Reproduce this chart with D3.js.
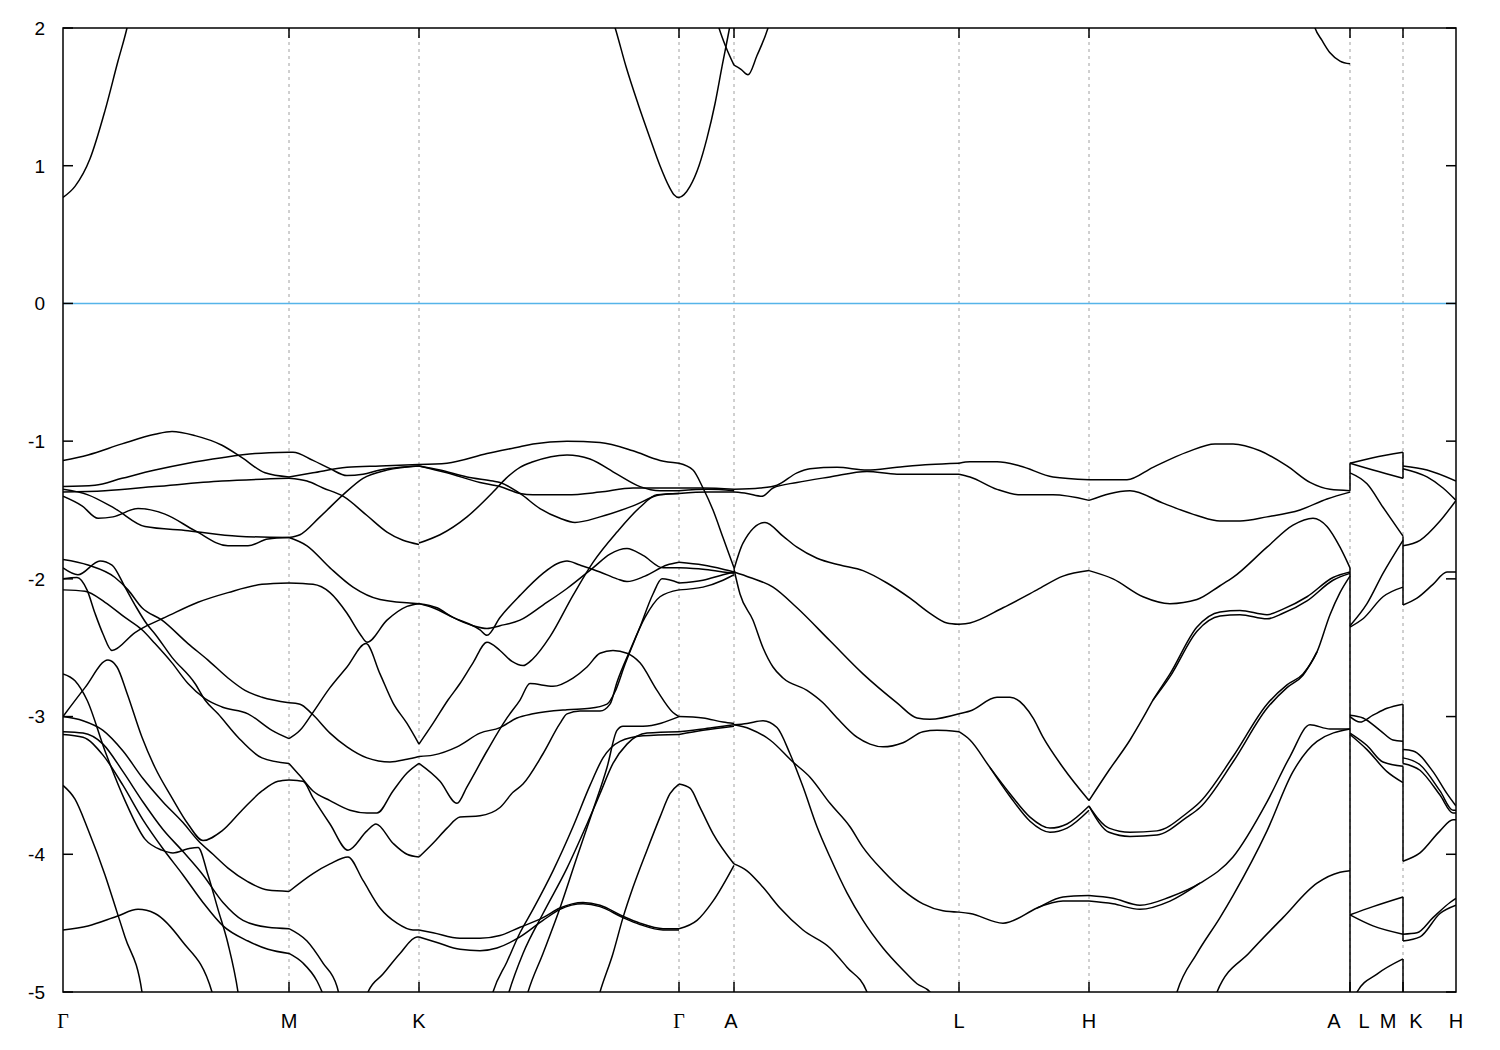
<!DOCTYPE html>
<html><head><meta charset="utf-8">
<script src="https://cdn.jsdelivr.net/npm/d3@7"></script>
<style>body{margin:0;background:#fff}</style>
</head><body>
<svg id="c" width="1500" height="1050"></svg>
<script>
// ---- tick labels / positions (k = path coordinate) ----
const xLabels   = ["Γ","M","K","Γ","A","L","H","A","L","M","K","H"];
const xLabelPos = [0,226,356,616,668,896,1026,1271,1301,1325,1353,1393];
const gridPos   = [226,356,616,671,896,1026,1287,1340];
const yTicks    = [2,1,0,-1,-2,-3,-4,-5];

// ---- bands, [k, E(eV)] ----
const conduction = [
 [[0,0.77],[12,0.85],[27,1.05],[42,1.40],[55,1.76],[64,2.0],[70,2.2]],
 [[548,2.1],[553,1.98],[563,1.72],[575,1.45],[587,1.2],[597,1.0],[606,0.85],[611,0.79],[616,0.77],[621,0.79],[627,0.85],[636,1.0],[644,1.2],[652,1.45],[659,1.72],[666,1.98],[669,2.1]],
 [[652,2.1],[656,2.0],[663,1.86],[671,1.73]],
 [[671,1.73],[678,1.70],[685,1.66],[694,1.80],[705,2.0],[709,2.1]],
 [[1248,2.1],[1252,2.0],[1259,1.91],[1267,1.82],[1277,1.76],[1287,1.74]]
];
const gammaM = [
 [[0,-1.14],[25,-1.10],[59,-1.02],[92,-0.95],[109,-0.93],[132,-0.96],[159,-1.03],[179,-1.12],[202,-1.23],[226,-1.26]],
 [[0,-1.33],[32,-1.32],[59,-1.27],[92,-1.21],[125,-1.16],[159,-1.12],[192,-1.09],[226,-1.08]],
 [[0,-1.37],[42,-1.36],[92,-1.33],[159,-1.29],[226,-1.27]],
 [[0,-1.35],[25,-1.39],[52,-1.49],[82,-1.62],[125,-1.65],[175,-1.69],[226,-1.70]],
 [[0,-1.40],[19,-1.47],[35,-1.56],[50,-1.55],[75,-1.49],[102,-1.53],[132,-1.65],[165,-1.76],[185,-1.76],[205,-1.71],[226,-1.70]],
 [[0,-1.86],[25,-1.90],[52,-1.99],[65,-2.08],[79,-2.21],[99,-2.30],[125,-2.47],[145,-2.59],[165,-2.72],[182,-2.81],[199,-2.86],[226,-2.90]],
 [[0,-1.92],[15,-1.97],[37,-1.87],[49,-1.90],[62,-2.06],[72,-2.19],[84,-2.33],[92,-2.40],[109,-2.57],[132,-2.76],[142,-2.88],[155,-2.98],[175,-3.15],[199,-3.30],[226,-3.34]],
 [[0,-2.0],[14,-1.99],[24,-2.08],[32,-2.25],[40,-2.40],[49,-2.52],[72,-2.39],[84,-2.34],[102,-2.28],[135,-2.17],[165,-2.10],[199,-2.04],[226,-2.03]],
 [[0,-2.08],[22,-2.09],[42,-2.17],[62,-2.28],[79,-2.37],[92,-2.47],[109,-2.61],[125,-2.76],[142,-2.87],[159,-2.93],[185,-2.98],[209,-3.10],[226,-3.16]],
 [[0,-3.0],[22,-2.79],[45,-2.59],[54,-2.64],[64,-2.83],[79,-3.15],[92,-3.37],[109,-3.59],[125,-3.78],[140,-3.90],[159,-3.83],[179,-3.68],[199,-3.54],[215,-3.47],[226,-3.46]],
 [[0,-2.69],[12,-2.74],[24,-2.88],[42,-3.25],[62,-3.61],[82,-3.89],[99,-3.97],[110,-3.99],[125,-3.96],[135,-3.95],[145,-4.15],[155,-4.40],[165,-4.65],[175,-5.0],[177,-5.1]],
 [[0,-3.50],[12,-3.60],[25,-3.82],[42,-4.15],[54,-4.42],[62,-4.6],[79,-5.0],[81,-5.1]],
 [[0,-4.55],[25,-4.52],[54,-4.45],[75,-4.40],[92,-4.43],[119,-4.63],[149,-5.0],[152,-5.1]],
 [[0,-3.0],[20,-3.03],[40,-3.10],[60,-3.25],[80,-3.45],[100,-3.62],[120,-3.77],[135,-3.90],[150,-4.0],[165,-4.10],[185,-4.20],[205,-4.26],[226,-4.27]],
 [[0,-3.11],[20,-3.12],[40,-3.20],[60,-3.40],[80,-3.62],[100,-3.82],[120,-3.98],[140,-4.15],[160,-4.35],[180,-4.48],[205,-4.53],[226,-4.54]],
 [[0,-3.13],[20,-3.15],[40,-3.28],[60,-3.50],[80,-3.75],[100,-3.96],[120,-4.15],[140,-4.35],[160,-4.52],[185,-4.63],[205,-4.69],[226,-4.72]]
];
const mK = [
 [[226,-1.08],[230,-1.08],[250,-1.14],[267,-1.20],[284,-1.25],[300,-1.24],[317,-1.21],[337,-1.19],[356,-1.18]],
 [[226,-1.26],[250,-1.23],[284,-1.19],[317,-1.18],[356,-1.17]],
 [[226,-1.27],[244,-1.29],[260,-1.34],[280,-1.40],[304,-1.54],[324,-1.66],[340,-1.72],[356,-1.75]],
 [[226,-1.70],[237,-1.68],[257,-1.55],[280,-1.39],[300,-1.27],[324,-1.21],[356,-1.18]],
 [[226,-1.70],[244,-1.76],[267,-1.92],[290,-2.06],[317,-2.15],[356,-2.18]],
 [[226,-2.03],[250,-2.04],[267,-2.10],[284,-2.25],[297,-2.40],[304,-2.46],[324,-2.30],[344,-2.20],[356,-2.18]],
 [[226,-3.16],[237,-3.10],[249,-2.98],[267,-2.79],[284,-2.64],[303,-2.47],[317,-2.69],[330,-2.90],[344,-3.05],[356,-3.20]],
 [[226,-2.90],[237,-2.91],[249,-2.98],[267,-3.12],[284,-3.22],[304,-3.30],[327,-3.33],[344,-3.31],[356,-3.29]],
 [[226,-3.34],[237,-3.43],[250,-3.54],[267,-3.61],[287,-3.68],[304,-3.70],[314,-3.70],[330,-3.54],[344,-3.41],[356,-3.34]],
 [[226,-3.46],[240,-3.47],[250,-3.59],[267,-3.78],[285,-3.97],[304,-3.83],[313,-3.78],[330,-3.92],[344,-4.0],[356,-4.02]],
 [[226,-4.27],[250,-4.14],[267,-4.07],[285,-4.02],[300,-4.19],[317,-4.39],[334,-4.50],[350,-4.55],[356,-4.55]],
 [[226,-4.54],[244,-4.63],[260,-4.79],[274,-4.96],[277,-5.05]],
 [[226,-4.72],[240,-4.79],[254,-4.92],[262,-5.05]],
 [[303,-5.05],[305,-5.0],[320,-4.87],[337,-4.72],[354,-4.60],[356,-4.60]]
];
const kGamma = [
 [[356,-1.17],[384,-1.16],[424,-1.09],[457,-1.04],[470,-1.02],[504,-1.0],[537,-1.01],[570,-1.07],[597,-1.14],[616,-1.16]],
 [[356,-1.74],[377,-1.68],[404,-1.55],[430,-1.37],[443,-1.27],[457,-1.19],[470,-1.15],[504,-1.10],[527,-1.13],[554,-1.24],[577,-1.33],[597,-1.36],[616,-1.36]],
 [[356,-1.18],[384,-1.23],[417,-1.30],[437,-1.33],[457,-1.38],[470,-1.39],[504,-1.39],[537,-1.37],[570,-1.34],[616,-1.34]],
 [[356,-1.18],[377,-1.21],[404,-1.26],[430,-1.29],[437,-1.30],[457,-1.38],[477,-1.49],[497,-1.56],[512,-1.59],[537,-1.55],[570,-1.47],[597,-1.39],[616,-1.38]],
 [[356,-2.18],[374,-2.21],[390,-2.28],[410,-2.34],[424,-2.36],[437,-2.34],[457,-2.30],[480,-2.19],[504,-2.07],[530,-1.92],[547,-1.82],[564,-1.78],[580,-1.83],[600,-1.92],[616,-1.92]],
 [[356,-2.18],[370,-2.21],[390,-2.28],[417,-2.37],[424,-2.41],[437,-2.28],[457,-2.12],[480,-1.96],[494,-1.89],[504,-1.87],[517,-1.90],[537,-1.95],[554,-2.0],[564,-2.02],[582,-1.98],[604,-1.90],[616,-1.88]],
 [[356,-3.20],[370,-3.05],[385,-2.88],[397,-2.76],[410,-2.61],[424,-2.46],[437,-2.52],[449,-2.60],[460,-2.63],[470,-2.58],[487,-2.42],[510,-2.12],[530,-1.88],[554,-1.66],[577,-1.48],[594,-1.39],[616,-1.38]],
 [[356,-3.29],[370,-3.28],[394,-3.22],[417,-3.12],[437,-3.08],[454,-3.01],[470,-2.98],[504,-2.95],[527,-2.94],[544,-2.91],[552,-2.82],[562,-2.62],[577,-2.35],[590,-2.11],[599,-2.0],[616,-2.03]],
 [[356,-3.34],[377,-3.47],[394,-3.63],[404,-3.51],[424,-3.25],[444,-3.01],[457,-2.88],[467,-2.76],[490,-2.78],[510,-2.72],[524,-2.64],[537,-2.54],[550,-2.52],[564,-2.54],[577,-2.61],[594,-2.81],[610,-2.97],[616,-3.0]],
 [[356,-4.02],[370,-3.92],[384,-3.81],[397,-3.73],[417,-3.72],[437,-3.66],[450,-3.55],[460,-3.49],[480,-3.27],[497,-3.05],[504,-2.98],[517,-2.96],[537,-2.96],[547,-2.91],[554,-2.75],[567,-2.52],[582,-2.28],[597,-2.13],[616,-2.08]],
 [[444,-5.05],[446,-5.0],[460,-4.72],[480,-4.43],[504,-4.10],[524,-3.78],[537,-3.56],[550,-3.34],[564,-3.20],[584,-3.12],[616,-3.11]],
 [[463,-5.05],[465,-5.0],[480,-4.72],[497,-4.39],[514,-4.02],[530,-3.68],[544,-3.37],[554,-3.10],[560,-3.07],[580,-3.07],[616,-3.0]],
 [[428,-5.05],[430,-5.0],[444,-4.78],[457,-4.57],[470,-4.40],[490,-4.12],[510,-3.80],[527,-3.50],[540,-3.30],[557,-3.18],[580,-3.14],[616,-3.13]],
 [[535,-5.05],[537,-5.0],[550,-4.72],[560,-4.46],[570,-4.24],[584,-3.97],[597,-3.73],[607,-3.56],[616,-3.49]],
 [[356,-4.55],[370,-4.57],[397,-4.61],[417,-4.61],[437,-4.59],[457,-4.53],[480,-4.46],[497,-4.39],[520,-4.35],[537,-4.37],[560,-4.45],[577,-4.50],[600,-4.54],[616,-4.54]],
 [[356,-4.60],[374,-4.64],[397,-4.69],[417,-4.70],[434,-4.68],[457,-4.60],[480,-4.48],[497,-4.40],[520,-4.36],[537,-4.38],[560,-4.46],[577,-4.51],[600,-4.55],[616,-4.55]]
];
const gammaA = [
 [[616,-1.16],[630,-1.21],[640,-1.34],[650,-1.50],[660,-1.70],[671,-1.92]],
 [[616,-1.34],[640,-1.34],[671,-1.35]],
 [[616,-1.36],[645,-1.35],[671,-1.36]],
 [[616,-1.38],[645,-1.37],[671,-1.37]],
 [[616,-1.88],[640,-1.90],[660,-1.93],[671,-1.95]],
 [[616,-1.92],[640,-1.93],[660,-1.95],[671,-1.96]],
 [[616,-2.03],[640,-2.01],[660,-1.97],[671,-1.95]],
 [[616,-2.08],[640,-2.06],[660,-2.01],[671,-1.97]],
 [[616,-3.0],[640,-3.01],[660,-3.04],[671,-3.05]],
 [[616,-3.11],[640,-3.09],[660,-3.07],[671,-3.06]],
 [[616,-3.13],[640,-3.10],[671,-3.07]],
 [[616,-3.49],[627,-3.52],[637,-3.66],[650,-3.85],[671,-4.07]],
 [[616,-4.54],[634,-4.48],[650,-4.34],[671,-4.08]]
];
const aL = [
 [[671,-1.93],[680,-1.74],[702,-1.59],[720,-1.69],[734,-1.77],[754,-1.85],[777,-1.90],[800,-1.94],[824,-2.03],[847,-2.14],[867,-2.25],[884,-2.32],[896,-2.33]],
 [[671,-1.95],[687,-1.99],[710,-2.06],[734,-2.21],[767,-2.45],[800,-2.69],[834,-2.90],[854,-3.01],[867,-3.02],[896,-2.98]],
 [[671,-1.93],[677,-2.11],[690,-2.30],[700,-2.50],[710,-2.64],[720,-2.72],[744,-2.81],[760,-2.90],[774,-3.01],[794,-3.15],[807,-3.20],[820,-3.22],[840,-3.19],[860,-3.11],[874,-3.10],[896,-3.11]],
 [[671,-1.35],[697,-1.34],[714,-1.32],[734,-1.23],[747,-1.20],[774,-1.19],[804,-1.21],[834,-1.19],[867,-1.17],[896,-1.16]],
 [[671,-1.37],[684,-1.38],[699,-1.40],[710,-1.34],[734,-1.30],[767,-1.26],[804,-1.22],[834,-1.24],[867,-1.24],[896,-1.24]],
 [[671,-3.06],[684,-3.05],[700,-3.03],[714,-3.08],[727,-3.27],[740,-3.51],[754,-3.80],[767,-4.02],[784,-4.28],[800,-4.48],[820,-4.68],[840,-4.84],[854,-4.94],[867,-5.0],[870,-5.05]],
 [[671,-3.06],[687,-3.09],[707,-3.17],[730,-3.33],[747,-3.44],[767,-3.63],[787,-3.80],[800,-3.95],[820,-4.12],[840,-4.26],[860,-4.36],[880,-4.41],[896,-4.42]],
 [[671,-4.07],[684,-4.12],[700,-4.24],[717,-4.39],[740,-4.55],[767,-4.68],[784,-4.82],[804,-5.0],[806,-5.05]]
];
const lH = [
 [[896,-1.16],[907,-1.15],[934,-1.15],[957,-1.18],[990,-1.26],[1026,-1.28]],
 [[896,-1.24],[907,-1.26],[934,-1.35],[957,-1.39],[990,-1.39],[1026,-1.43]],
 [[896,-2.33],[907,-2.32],[940,-2.21],[974,-2.08],[1000,-1.98],[1026,-1.94]],
 [[896,-2.98],[907,-2.96],[934,-2.86],[947,-2.86],[970,-3.01],[980,-3.15],[1000,-3.37],[1026,-3.61]],
 [[896,-3.11],[907,-3.17],[927,-3.37],[947,-3.56],[967,-3.73],[987,-3.81],[1004,-3.78],[1026,-3.65]],
 [[927,-3.37],[947,-3.58],[967,-3.76],[987,-3.84],[1004,-3.81],[1026,-3.68]],
 [[896,-4.42],[907,-4.43],[940,-4.50],[974,-4.39],[1000,-4.31],[1026,-4.30]],
 [[974,-4.39],[1000,-4.34],[1026,-4.34]]
];
const hA = [
 [[1026,-1.28],[1064,-1.28],[1090,-1.19],[1124,-1.08],[1152,-1.02],[1170,-1.02],[1197,-1.07],[1224,-1.18],[1247,-1.30],[1267,-1.35],[1287,-1.36]],
 [[1026,-1.43],[1067,-1.36],[1100,-1.45],[1134,-1.54],[1157,-1.58],[1177,-1.58],[1204,-1.55],[1237,-1.50],[1264,-1.42],[1287,-1.37]],
 [[1026,-1.94],[1050,-2.0],[1080,-2.13],[1107,-2.18],[1134,-2.15],[1157,-2.05],[1170,-1.99],[1204,-1.77],[1230,-1.61],[1250,-1.56],[1264,-1.62],[1277,-1.77],[1287,-1.92]],
 [[1026,-3.61],[1046,-3.39],[1067,-3.17],[1080,-3.01],[1090,-2.88],[1107,-2.69],[1134,-2.35],[1157,-2.24],[1177,-2.23],[1204,-2.26],[1220,-2.22],[1244,-2.13],[1270,-1.99],[1287,-1.95]],
 [[1090,-2.88],[1107,-2.71],[1134,-2.38],[1157,-2.27],[1177,-2.26],[1204,-2.29],[1220,-2.25],[1244,-2.16],[1270,-2.01],[1287,-1.96]],
 [[1026,-3.65],[1046,-3.81],[1067,-3.84],[1094,-3.83],[1124,-3.70],[1137,-3.62],[1170,-3.29],[1204,-2.91],[1224,-2.77],[1240,-2.69],[1254,-2.53],[1267,-2.26],[1277,-2.10],[1287,-1.98]],
 [[1026,-3.65],[1046,-3.84],[1067,-3.87],[1094,-3.86],[1124,-3.73],[1137,-3.66],[1170,-3.33],[1204,-2.94],[1224,-2.79],[1240,-2.70],[1254,-2.53]],
 [[1026,-4.30],[1050,-4.32],[1077,-4.37],[1107,-4.31],[1137,-4.21],[1170,-4.02],[1204,-3.62],[1227,-3.29],[1247,-3.06],[1267,-3.09],[1287,-3.09]],
 [[1026,-4.34],[1050,-4.36],[1077,-4.40],[1107,-4.34],[1137,-4.21]],
 [[1112,-5.05],[1114,-5.0],[1134,-4.72],[1157,-4.46],[1170,-4.30],[1204,-3.83],[1230,-3.40],[1254,-3.18],[1287,-3.09]],
 [[1152,-5.05],[1154,-5.0],[1187,-4.71],[1220,-4.46],[1254,-4.21],[1277,-4.13],[1287,-4.12]]
];
const lM = [
 [[1287,-1.16],[1310,-1.12],[1340,-1.08]],
 [[1287,-1.16],[1310,-1.21],[1340,-1.27]],
 [[1287,-1.23],[1304,-1.31],[1320,-1.48],[1340,-1.69]],
 [[1287,-2.34],[1304,-2.18],[1320,-1.96],[1340,-1.72]],
 [[1287,-2.35],[1300,-2.29],[1320,-2.13],[1340,-2.06]],
 [[1287,-3.0],[1297,-3.04],[1310,-2.99],[1324,-2.94],[1340,-2.91]],
 [[1287,-2.99],[1300,-3.01],[1317,-3.10],[1330,-3.17],[1340,-3.18]],
 [[1287,-3.12],[1304,-3.21],[1320,-3.33],[1340,-3.36]],
 [[1287,-3.13],[1304,-3.24],[1324,-3.40],[1340,-3.48]],
 [[1287,-4.44],[1310,-4.38],[1340,-4.31]],
 [[1287,-4.44],[1310,-4.52],[1340,-4.58]],
 [[1292,-5.05],[1294,-5.0],[1314,-4.87],[1340,-4.76]]
];
const kH = [
 [[1340,-1.18],[1364,-1.21],[1393,-1.29]],
 [[1340,-1.20],[1364,-1.26],[1380,-1.34],[1393,-1.43]],
 [[1340,-1.76],[1357,-1.72],[1377,-1.58],[1393,-1.43]],
 [[1340,-2.19],[1354,-2.14],[1370,-2.04],[1384,-1.95],[1393,-1.95]],
 [[1340,-3.24],[1350,-3.25],[1370,-3.40],[1384,-3.56],[1393,-3.65]],
 [[1340,-3.30],[1357,-3.35],[1377,-3.54],[1390,-3.68],[1393,-3.68]],
 [[1340,-3.34],[1357,-3.39],[1377,-3.57],[1390,-3.70],[1393,-3.70]],
 [[1340,-4.05],[1357,-3.99],[1377,-3.83],[1390,-3.75],[1393,-3.75]],
 [[1340,-4.58],[1354,-4.57],[1370,-4.46],[1387,-4.35],[1393,-4.32]],
 [[1340,-4.63],[1357,-4.60],[1377,-4.43],[1393,-4.37]]
];
// discontinuities drawn as vertical jumps: [k, E1, E2]
const jumps = [
 [1287,-1.36,-1.16],[1287,-1.92,-5.05],
 [1340,-1.08,-1.27],[1340,-1.69,-2.19],[1340,-2.91,-3.34],[1340,-3.36,-4.05],[1340,-4.31,-4.63],[1340,-4.76,-5.05]
];

const m={l:63,t:28,r:1456,b:992};
const x=d3.scaleLinear().domain([0,1393]).range([m.l,m.r]);
const y=d3.scaleLinear().domain([-5,2]).range([m.b,m.t]);
const svg=d3.select("#c");
svg.append("rect").attr("width",1500).attr("height",1050).attr("fill","#fff");
svg.append("clipPath").attr("id","clip").append("rect")
  .attr("x",m.l).attr("y",m.t).attr("width",m.r-m.l).attr("height",m.b-m.t);

// grid
svg.append("g").selectAll("line").data(gridPos).join("line")
  .attr("x1",d=>x(d)).attr("x2",d=>x(d)).attr("y1",m.t).attr("y2",m.b)
  .attr("stroke","#a0a0a0").attr("stroke-width",1).attr("stroke-dasharray","3,4");

// zero line
svg.append("line").attr("x1",m.l).attr("x2",m.r).attr("y1",y(0)).attr("y2",y(0))
  .attr("stroke","#56b4e9").attr("stroke-width",1.5);

const line=d3.line().x(d=>x(d[0])).y(d=>y(d[1])).curve(d3.curveMonotoneX);
const g=svg.append("g").attr("clip-path","url(#clip)");
const all=[].concat(conduction,gammaM,mK,kGamma,gammaA,aL,lH,hA,lM,kH);
g.selectAll("path.band").data(all).join("path").attr("class","band")
  .attr("d",line).attr("fill","none").attr("stroke","#000").attr("stroke-width",1.5);
g.selectAll("line.jump").data(jumps).join("line").attr("class","jump")
  .attr("x1",d=>x(d[0])).attr("x2",d=>x(d[0])).attr("y1",d=>y(d[1])).attr("y2",d=>y(d[2]))
  .attr("stroke","#000").attr("stroke-width",1.5);

// border
svg.append("rect").attr("x",m.l).attr("y",m.t).attr("width",m.r-m.l).attr("height",m.b-m.t)
  .attr("fill","none").attr("stroke","#000").attr("stroke-width",1.5);

// y ticks
const yt=svg.append("g");
yTicks.forEach(v=>{
  yt.append("line").attr("x1",m.l).attr("x2",m.l+10).attr("y1",y(v)).attr("y2",y(v)).attr("stroke","#000").attr("stroke-width",1.5);
  yt.append("line").attr("x1",m.r-10).attr("x2",m.r).attr("y1",y(v)).attr("y2",y(v)).attr("stroke","#000").attr("stroke-width",1.5);
  yt.append("text").attr("x",45).attr("y",y(v)).attr("dy","0.36em").attr("text-anchor","end")
    .attr("font-family","Liberation Sans, Arial, sans-serif").attr("font-size",19).text(v);
});
// x ticks
gridPos.forEach(v=>{
  svg.append("line").attr("x1",x(v)).attr("x2",x(v)).attr("y1",m.b).attr("y2",m.b-10).attr("stroke","#000").attr("stroke-width",1.5);
  svg.append("line").attr("x1",x(v)).attr("x2",x(v)).attr("y1",m.t).attr("y2",m.t+10).attr("stroke","#000").attr("stroke-width",1.5);
});
xLabels.forEach((t,i)=>{
  svg.append("text").attr("x",x(xLabelPos[i])).attr("y",1028).attr("text-anchor","middle")
    .attr("font-family", t==="Γ" ? "Liberation Serif, serif" : "Liberation Sans, Arial, sans-serif")
    .attr("font-size",20).text(t);
});
</script>
</body></html>
